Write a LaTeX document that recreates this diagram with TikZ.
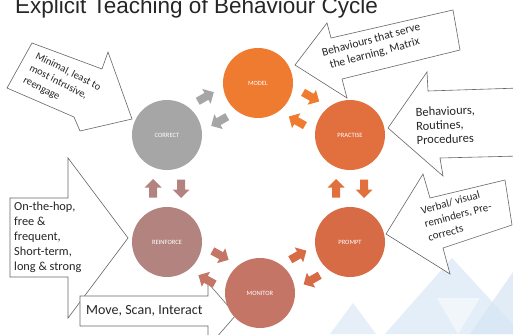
\documentclass[tikz,border=0pt]{standalone}
\usepackage{fontspec}
\setmainfont{Carlito}
\newfontfamily\titlefont{Liberation Sans}
\usetikzlibrary{calc}

\definecolor{cModel}{HTML}{EE7B30}
\definecolor{cPractise}{HTML}{E1703E}
\definecolor{cPrompt}{HTML}{D66B45}
\definecolor{cMonitor}{HTML}{C57566}
\definecolor{cReinforce}{HTML}{B3847F}
\definecolor{cCorrect}{HTML}{A6A6A6}
\definecolor{paleA}{HTML}{E4EEF8}
\definecolor{paleB}{HTML}{D6E5F3}
\definecolor{inkText}{HTML}{262626}

% two opposite block arrows between neighbouring stages:
% the outer one follows the cycle, the inner one points back
\newcommand\cyclearrows[3]{%
  \path let \p1=($(#2)-(#1)$), \n1={atan2(\y1,\x1)} in
    ($(#1)!0.5!(#2)!14pt!90:(#2)$) pic[rotate=\n1] {barrow=#3}
    ($(#1)!0.5!(#2)!14pt!-90:(#2)$) pic[rotate=\n1+180] {barrow=#3};}

\begin{document}
\begin{tikzpicture}[x=1pt,y=-1pt,
  stage/.style={circle, minimum size=70pt, inner sep=0pt, text=white,
    font=\fontsize{6.5}{7}\selectfont},
  callout/.style={draw=black!60, line width=0.6pt, fill=white, line join=miter},
  note/.style={text=inkText, inner sep=0pt},
  pics/barrow/.style={code={\fill[#1] (-9,-4) -- (1,-4) -- (1,-8.5) -- (9.5,0)
     -- (1,8.5) -- (1,4) -- (-9,4) -- cycle;}}
]
\useasboundingbox (0,0) rectangle (513,334);
\clip (0,0) rectangle (513,334);
\fill[white] (0,0) rectangle (513,334);

% faint backdrop triangles, lower right
\fill[paleA] (385,334) -- (452,258) -- (522,334) -- cycle;
\fill[paleB, opacity=0.6] (330,334) -- (353,303) -- (376,334) -- cycle;
\fill[paleB, opacity=0.7] (470,334) -- (513,272) -- (513,334) -- cycle;
\fill[white, opacity=0.5] (437,298) -- (480,298) -- (458,334) -- cycle;

% title
\node[anchor=base west, inner sep=0pt, text=inkText,
  font=\titlefont\fontsize{22.5}{24}\selectfont] (title) at (15,13.5)
  {Explicit Teaching of Behaviour Cycle};

% callout arrows
\draw[callout] (295,65) -- (327,23) -- (331,38) -- (453,10) -- (460,50)
  -- (342,79) -- (347,98) -- cycle;
\draw[callout] (388,128) -- (427,72) -- (428,91) -- (520,88) -- (520,156)
  -- (440,158) -- (443,176) -- cycle;
\draw[callout] (386,234) -- (423,174) -- (430,198) -- (505,180) -- (512,225)
  -- (443,248) -- (450,274) -- cycle;
\draw[callout] (32,43) -- (102,69) -- (108,52) -- (132,119) -- (80,131)
  -- (74,117) -- (7,88) -- cycle;
\draw[callout] (10,198) -- (68,198) -- (68,158) -- (128,238) -- (68,318)
  -- (68,277) -- (10,277) -- cycle;
\draw[callout] (80,296) -- (208,296) -- (208,283) -- (236,315) -- (208,347)
  -- (208,326) -- (80,326) -- cycle;

% callout texts
\node[note, rotate=15, align=center, font=\fontsize{11.5}{14}\selectfont]
  (tModel) at (373,47) {Behaviours that serve\\the learning, Matrix};
\node[note, anchor=west, rotate=2, align=left, font=\fontsize{12.5}{14}\selectfont]
  (tPractise) at (416,126) {Behaviours,\\Routines,\\Procedures};
\node[note, rotate=15, align=left, font=\fontsize{11}{14}\selectfont]
  (tPrompt) at (458,215) {Verbal/ visual\\reminders, Pre-\\corrects};
\node[note, rotate=-27, align=left, font=\fontsize{10.5}{13.5}\selectfont]
  (tCorrect) at (62,84) {Minimal, least to\\most intrusive,\\reengage};
\node[note, anchor=west, align=left, font=\fontsize{12.3}{15}\selectfont]
  (tReinforce) at (14,237) {On-the-hop,\\free \&\\frequent,\\Short-term,\\long \& strong};
\node[note, anchor=west, font=\fontsize{14}{15}\selectfont]
  (tMonitor) at (86,311) {Move, Scan, Interact};

% the six stages
\node[stage, fill=cModel]     (mod) at (258,83)  {MODEL};
\node[stage, fill=cPractise]  (pra) at (350,135) {PRACTISE};
\node[stage, fill=cPrompt]    (pro) at (350,242) {PROMPT};
\node[stage, fill=cMonitor]   (mon) at (260,293) {MONITOR};
\node[stage, fill=cReinforce] (rei) at (167,242) {REINFORCE};
\node[stage, fill=cCorrect]   (cor) at (167,135) {CORRECT};

% arrows between stages
\cyclearrows{cor}{mod}{cCorrect}
\cyclearrows{mod}{pra}{cModel}
\cyclearrows{pra}{pro}{cPractise}
\cyclearrows{pro}{mon}{cPrompt}
\cyclearrows{mon}{rei}{cMonitor}
\cyclearrows{rei}{cor}{cReinforce}
\end{tikzpicture}
\end{document}
